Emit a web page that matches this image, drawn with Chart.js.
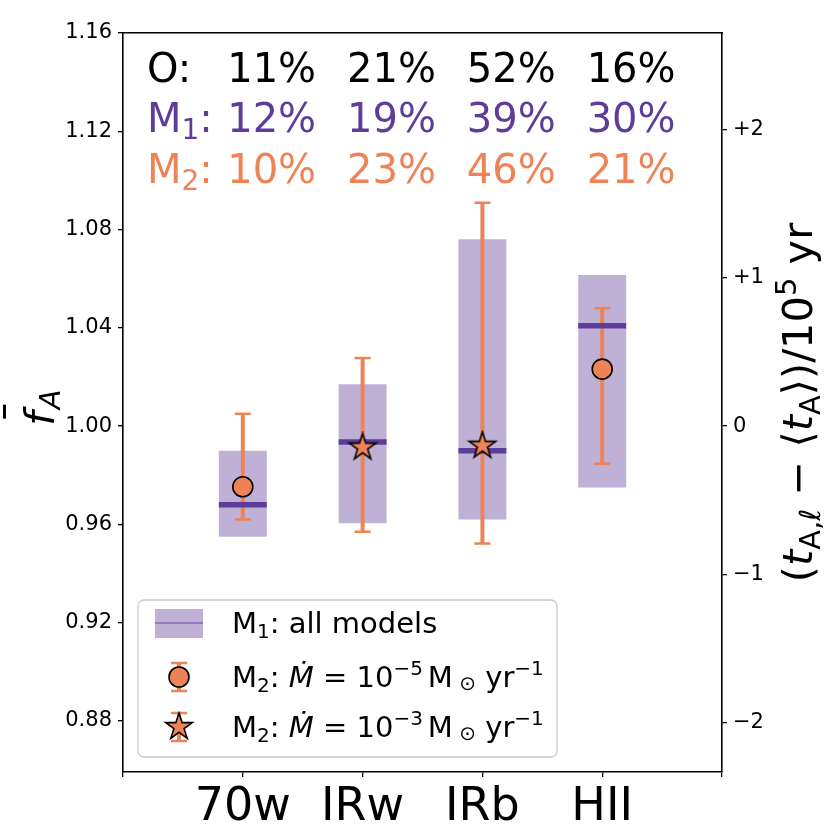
<!DOCTYPE html>
<html><head><meta charset="utf-8">
<script src="https://cdn.jsdelivr.net/npm/chart.js@4.4.0/dist/chart.umd.min.js"></script>
<style>html,body{margin:0;padding:0;background:#fff;}canvas{display:block;}</style>
</head><body>
<canvas id="c" width="830" height="830"></canvas>
<script>
// ---------- data ----------
const categories = ['70w', 'IRw', 'IRb', 'HII'];
const catPos = [1, 2, 3, 4];
const m1Low = [0.955, 0.9605, 0.962, 0.975];
const m1High = [0.990, 1.017, 1.076, 1.0615];
const m1Median = [0.968, 0.9935, 0.990, 1.0408];
const m2Value = [0.9753, 0.9913, 0.992, 1.0232];
const m2Low = [0.962, 0.957, 0.9522, 0.9847];
const m2High = [1.005, 1.0277, 1.0909, 1.048];
const m2Marker = ['circle', 'star', 'star', 'circle'];
const pctO = ['11%', '21%', '52%', '16%'];
const pctM1 = ['12%', '19%', '39%', '30%'];
const pctM2 = ['10%', '23%', '46%', '21%'];
const yTicks = [0.88, 0.92, 0.96, 1.00, 1.04, 1.08, 1.12, 1.16];
const y2Ticks = [-2, -1, 0, 1, 2];
const y2TickLabels = ['\u22122', '\u22121', '0', '+1', '+2'];

// ---------- style ----------
const PURPLE = '#5e3c99';
const BOXFILL = 'rgba(94,60,153,0.4)';
const ORANGE = '#ed8357';
const FONT = 'DejaVu Sans';
const Y_MIN = 0.8592, Y_MAX = 1.16;
const T_UNIT = 0.06028; // f_A change per 1e5 yr

function makeStar(R, fill) {
  const pad = 2, s = Math.ceil(2 * R + 2 * pad);
  const c = document.createElement('canvas'); c.width = s; c.height = s;
  const g = c.getContext('2d');
  const r = R * 0.381966;
  g.beginPath();
  for (let i = 0; i < 10; i++) {
    const rad = (i % 2 === 0) ? R : r;
    const a = -Math.PI / 2 + i * Math.PI / 5;
    const px = s / 2 + rad * Math.cos(a), py = s / 2 + rad * Math.sin(a);
    if (i) g.lineTo(px, py); else g.moveTo(px, py);
  }
  g.closePath();
  g.fillStyle = fill; g.fill();
  g.lineWidth = 1.6; g.strokeStyle = '#000'; g.lineJoin = 'miter'; g.stroke();
  return c;
}
const starImg = makeStar(14, ORANGE);

const xPx = (chart, dx) => Math.abs(chart.scales.x.getPixelForValue(dx) - chart.scales.x.getPixelForValue(0));

const boxData = catPos.map((x, i) => ({x, y: [m1Low[i], m1High[i]]}));
const errData = catPos.map((x, i) => ({x, y: [m2Low[i], m2High[i]]}));
const capData = catPos.flatMap((x, i) => [{x, y: m2Low[i]}, {x, y: m2High[i]}]);
const medData = catPos.map((x, i) => ({x, y: m1Median[i]}));
const circData = catPos.map((x, i) => ({x, y: m2Value[i], k: m2Marker[i]})).filter(d => d.k === 'circle');
const starData = catPos.map((x, i) => ({x, y: m2Value[i], k: m2Marker[i]})).filter(d => d.k === 'star');

// ---------- rich text helper ----------
function fnt(p, base) {
  return (p.italic ? 'italic ' : '') + (p.size || base) + 'px "' + FONT + '"';
}
function richWidth(ctx, parts, base) {
  let w = 0;
  for (const p of parts) { ctx.font = fnt(p, base); w += ctx.measureText(p.t).width + (p.gap || 0); }
  return w;
}
function drawRich(ctx, x, y, parts, base, color) {
  const pos = [];
  for (const p of parts) {
    ctx.font = fnt(p, base);
    ctx.fillStyle = p.color || color;
    ctx.fillText(p.t, x, y + (p.dy || 0));
    const w = ctx.measureText(p.t).width;
    pos.push([x, w]);
    x += w + (p.gap || 0);
  }
  return pos;
}

const textPlugin = {
  id: 'texts',
  afterDraw(chart) {
    const {ctx, chartArea: ca, scales: {x}} = chart;
    ctx.save();
    ctx.textBaseline = 'alphabetic';
    ctx.textAlign = 'left';
    // top annotation rows
    const rows = [
      {lab: [{t: 'O:'}], vals: pctO, color: '#000', dy: 49},
      {lab: [{t: 'M'}, {t: '1', size: 28, dy: 7}, {t: ':'}], vals: pctM1, color: PURPLE, dy: 99},
      {lab: [{t: 'M'}, {t: '2', size: 28, dy: 7}, {t: ':'}], vals: pctM2, color: ORANGE, dy: 150}
    ];
    for (const r of rows) {
      const by = ca.top + r.dy;
      drawRich(ctx, x.getPixelForValue(0.2), by, r.lab, 40, r.color);
      ctx.font = '40px "' + FONT + '"';
      ctx.fillStyle = r.color;
      r.vals.forEach((v, i) => ctx.fillText(v, x.getPixelForValue(catPos[i] - 0.13), by));
    }

    // left axis title  \bar f_A
    const cy = (ca.top + ca.bottom) / 2;
    ctx.save();
    ctx.translate(54, cy + 5);
    ctx.rotate(-Math.PI / 2);
    const lt = [{t: 'f', italic: true, gap: 2}, {t: 'A', italic: true, size: 29, dy: 6}];
    const lw = richWidth(ctx, lt, 41);
    const lp = drawRich(ctx, -lw / 2, 0, lt, 41, '#000');
    ctx.fillRect(lp[0][0] + 7, -51, 14, 3);
    ctx.restore();

    // right axis title
    ctx.save();
    ctx.translate(812, cy);
    ctx.rotate(-Math.PI / 2);
    const rt = [
      {t: '('}, {t: 't', italic: true}, {t: 'A', size: 29, dy: 8}, {t: ',', size: 29, dy: 8},
      {t: '\u2113', italic: true, size: 29, dy: 8}, {t: ' \u2212 '}, {t: '\u27e8'}, {t: 't', italic: true},
      {t: 'A', size: 29, dy: 8}, {t: '\u27e9'}, {t: ')'}, {t: '/10'}, {t: '5', size: 29, dy: -16}, {t: ' yr'}
    ];
    const rw = richWidth(ctx, rt, 41.5);
    drawRich(ctx, -rw / 2, 0, rt, 41.5, '#000');
    ctx.restore();

    // legend
    const L = ca.left + 15, T = ca.bottom - 172, W = 419, H = 157;
    ctx.beginPath();
    if (ctx.roundRect) ctx.roundRect(L, T, W, H, 6); else ctx.rect(L, T, W, H);
    ctx.fillStyle = 'rgba(255,255,255,0.8)'; ctx.fill();
    ctx.lineWidth = 1.3; ctx.strokeStyle = '#cccccc'; ctx.stroke();
    const hx = L + 41, tx = L + 94;
    const ry = [T + 23, T + 77, T + 127];
    // row 1 handle
    ctx.fillStyle = BOXFILL; ctx.fillRect(L + 17, ry[0] - 14, 48, 29);
    ctx.strokeStyle = 'rgba(94,60,153,0.45)'; ctx.lineWidth = 2;
    ctx.beginPath(); ctx.moveTo(L + 17, ry[0]); ctx.lineTo(L + 65, ry[0]); ctx.stroke();
    // error bar handles
    for (const yy of [ry[1], ry[2]]) {
      ctx.strokeStyle = ORANGE; ctx.lineWidth = 4;
      ctx.beginPath(); ctx.moveTo(hx, yy - 14); ctx.lineTo(hx, yy + 14); ctx.stroke();
      ctx.lineWidth = 2.5;
      ctx.beginPath(); ctx.moveTo(hx - 8, yy - 14); ctx.lineTo(hx + 8, yy - 14);
      ctx.moveTo(hx - 8, yy + 14); ctx.lineTo(hx + 8, yy + 14); ctx.stroke();
    }
    ctx.beginPath(); ctx.arc(hx, ry[1], 10, 0, Math.PI * 2);
    ctx.fillStyle = ORANGE; ctx.fill(); ctx.lineWidth = 1.6; ctx.strokeStyle = '#000'; ctx.stroke();
    ctx.drawImage(starImg, hx - starImg.width / 2, ry[2] - starImg.height / 2);
    // legend texts
    const S = 20;
    const mdot = (e) => [
      {t: 'M'}, {t: '2', size: S, dy: 5}, {t: ': '}, {t: '\u1e40', italic: true}, {t: ' = '}, {t: '10'},
      {t: '\u2212' + e, size: S, dy: -12, gap: 5}, {t: 'M'}, {t: ' \u2299', size: S, dy: 3}, {t: ' yr'}, {t: '\u22121', size: S, dy: -12}
    ];
    drawRich(ctx, tx, ry[0] + 10, [{t: 'M'}, {t: '1', size: S, dy: 5}, {t: ': all models'}], 29, '#000');
    drawRich(ctx, tx, ry[1] + 10, mdot('5'), 29, '#000');
    drawRich(ctx, tx, ry[2] + 10, mdot('3'), 29, '#000');
    ctx.restore();
  }
};

const tickFont = {family: FONT, size: 21};
const axisGrid = {display: true, drawOnChartArea: false, drawTicks: true, tickLength: 5, color: '#000', lineWidth: 1.3};
const axisBorder = {display: true, color: '#000', width: 1.6};

new Chart(document.getElementById('c'), {
  type: 'scatter',
  data: {
    datasets: [
      {type: 'bar', label: 'M1 range', data: boxData, backgroundColor: BOXFILL, borderWidth: 0,
       grouped: false, barPercentage: 0.4, categoryPercentage: 1, order: 5, xAxisID: 'x', yAxisID: 'y'},
      {type: 'bar', label: 'M2 error', data: errData, backgroundColor: ORANGE, borderWidth: 0,
       grouped: false, barPercentage: 0.0334, categoryPercentage: 1, order: 4, xAxisID: 'x', yAxisID: 'y'},
      {type: 'scatter', label: 'caps', data: capData, pointStyle: 'line', pointRadius: 8,
       borderColor: ORANGE, borderWidth: 2.5, order: 3, xAxisID: 'x', yAxisID: 'y'},
      {type: 'scatter', label: 'M1 median', data: medData, pointStyle: 'line',
       pointRadius: (c) => xPx(c.chart, 0.2), borderColor: PURPLE, borderWidth: 5.5, order: 2, xAxisID: 'x', yAxisID: 'y'},
      {type: 'scatter', label: 'M2 1e-5', data: circData, pointStyle: 'circle', pointRadius: 10,
       backgroundColor: ORANGE, borderColor: '#000', borderWidth: 1.6, order: 1, xAxisID: 'x', yAxisID: 'y'},
      {type: 'scatter', label: 'M2 1e-3', data: starData, pointStyle: starImg, pointRadius: 14,
       backgroundColor: ORANGE, borderColor: '#000', borderWidth: 1.6, order: 0, xAxisID: 'x', yAxisID: 'y'}
    ]
  },
  options: {
    responsive: false, devicePixelRatio: 1, animation: false, events: [],
    layout: {padding: 0},
    plugins: {legend: {display: false}, tooltip: {enabled: false}, title: {display: false}},
    scales: {
      x: {type: 'linear', axis: 'x', position: 'bottom', min: 0, max: 5, offset: false,
          grid: Object.assign({}, axisGrid, {offset: false}), border: axisBorder,
          ticks: {stepSize: 1, autoSkip: false, maxRotation: 0, padding: 3, color: '#000',
                  font: {family: FONT, size: 46},
                  callback: (v) => { const i = catPos.indexOf(v); return i >= 0 ? categories[i] : ''; }},
          afterFit: (s) => { s.height = 58; }},
      xTop: {type: 'linear', axis: 'x', position: 'top', min: 0, max: 5,
             grid: {display: false}, ticks: {display: false}, border: axisBorder,
             afterFit: (s) => { s.height = 33; }},
      y: {type: 'linear', axis: 'y', position: 'left', min: Y_MIN, max: Y_MAX,
          afterBuildTicks: (s) => { s.ticks = yTicks.map(v => ({value: v})); },
          grid: axisGrid, border: axisBorder,
          ticks: {color: '#000', font: tickFont, padding: 6, callback: (v) => Number(v).toFixed(2)},
          afterFit: (s) => { s.width = 123; }},
      y2: {type: 'linear', axis: 'y', position: 'right', min: (Y_MIN - 1) / T_UNIT, max: (Y_MAX - 1) / T_UNIT,
           afterBuildTicks: (s) => { s.ticks = y2Ticks.map(v => ({value: v})); },
           grid: axisGrid, border: axisBorder,
           ticks: {color: '#000', font: tickFont, padding: 6,
                   callback: (v) => { const i = y2Ticks.indexOf(v); return i >= 0 ? y2TickLabels[i] : ''; }},
           afterFit: (s) => { s.width = 108; }}
    }
  },
  plugins: [textPlugin]
});
</script>
</body></html>
